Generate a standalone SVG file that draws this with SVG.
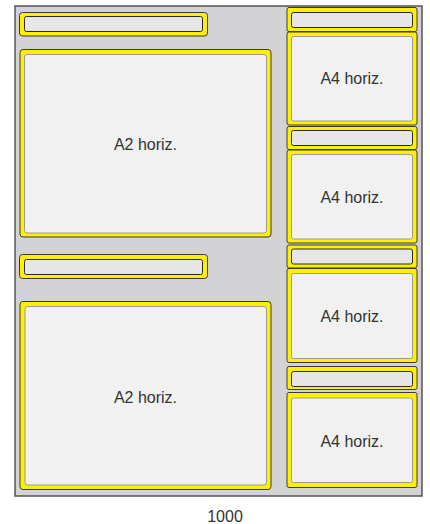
<svg xmlns="http://www.w3.org/2000/svg" width="430" height="524" viewBox="0 0 430 524">
<style>
.frame{fill:#d3d3d5;stroke:#555;stroke-width:1.5}
.yo{fill:#fff000;stroke:#3a3a3a;stroke-width:1}
.bi{fill:#e6e6e6;stroke:#2a2a2a;stroke-width:1}
.pi{fill:#f1f1f1;stroke:#9a9a9a;stroke-width:1}
.t{font-family:"Liberation Sans",Arial,sans-serif;font-size:16px;fill:#333;text-anchor:middle}
</style>
<rect width="430" height="524" fill="#fff"/>
<g id="frame"><rect class="frame" x="15" y="6" width="407" height="490"/></g>
<g id="bar-left-1"><rect class="yo" x="19.5" y="12.5" width="188" height="23.5" rx="3"/><rect class="bi" x="24.5" y="16.5" width="178" height="15" rx="2"/></g>
<g id="a2-top"><rect class="yo" x="20" y="49.5" width="251" height="187.5" rx="3"/><rect class="pi" x="24.5" y="54.5" width="242" height="178.5" rx="2.5"/><text class="t" x="145.5" y="149.5">A2 horiz.</text></g>
<g id="bar-left-2"><rect class="yo" x="19.5" y="254.5" width="188" height="24" rx="3"/><rect class="bi" x="24.5" y="259.5" width="178" height="15" rx="2"/></g>
<g id="a2-bottom"><rect class="yo" x="20" y="301.5" width="251" height="188" rx="3"/><rect class="pi" x="25" y="306.5" width="241.5" height="178.5" rx="2.5"/><text class="t" x="145.5" y="402.5">A2 horiz.</text></g>
<g id="bar-right-1"><rect class="yo" x="287" y="7.5" width="130" height="24" rx="2"/><rect class="bi" x="291.5" y="12.5" width="121" height="15" rx="2"/></g>
<g id="a4-1"><rect class="yo" x="287" y="32" width="130" height="93" rx="2"/><rect class="pi" x="291.5" y="36.5" width="121" height="84.5" rx="2"/><text class="t" x="352" y="83.5">A4 horiz.</text></g>
<g id="bar-right-2"><rect class="yo" x="287" y="126.5" width="130" height="23" rx="2"/><rect class="bi" x="291.5" y="130.5" width="121" height="15" rx="2"/></g>
<g id="a4-2"><rect class="yo" x="287" y="150" width="130" height="93" rx="2"/><rect class="pi" x="291.5" y="154.5" width="121" height="84.5" rx="2"/><text class="t" x="352" y="202.5">A4 horiz.</text></g>
<g id="bar-right-3"><rect class="yo" x="287" y="245" width="130" height="23" rx="2"/><rect class="bi" x="291.5" y="249" width="121" height="15" rx="2"/></g>
<g id="a4-3"><rect class="yo" x="287" y="268.5" width="130" height="94" rx="2"/><rect class="pi" x="291.5" y="273.5" width="121" height="85" rx="2"/><text class="t" x="352" y="321.5">A4 horiz.</text></g>
<g id="bar-right-4"><rect class="yo" x="287" y="366.5" width="130" height="23" rx="2"/><rect class="bi" x="291.5" y="371.5" width="121" height="15" rx="2"/></g>
<g id="a4-4"><rect class="yo" x="287" y="392.5" width="130" height="95" rx="2"/><rect class="pi" x="291.5" y="398" width="121" height="84.5" rx="2"/><text class="t" x="352" y="446.5">A4 horiz.</text></g>
<g id="connectors"></g>
<text class="t" x="225" y="521.5">1000</text>
</svg>
